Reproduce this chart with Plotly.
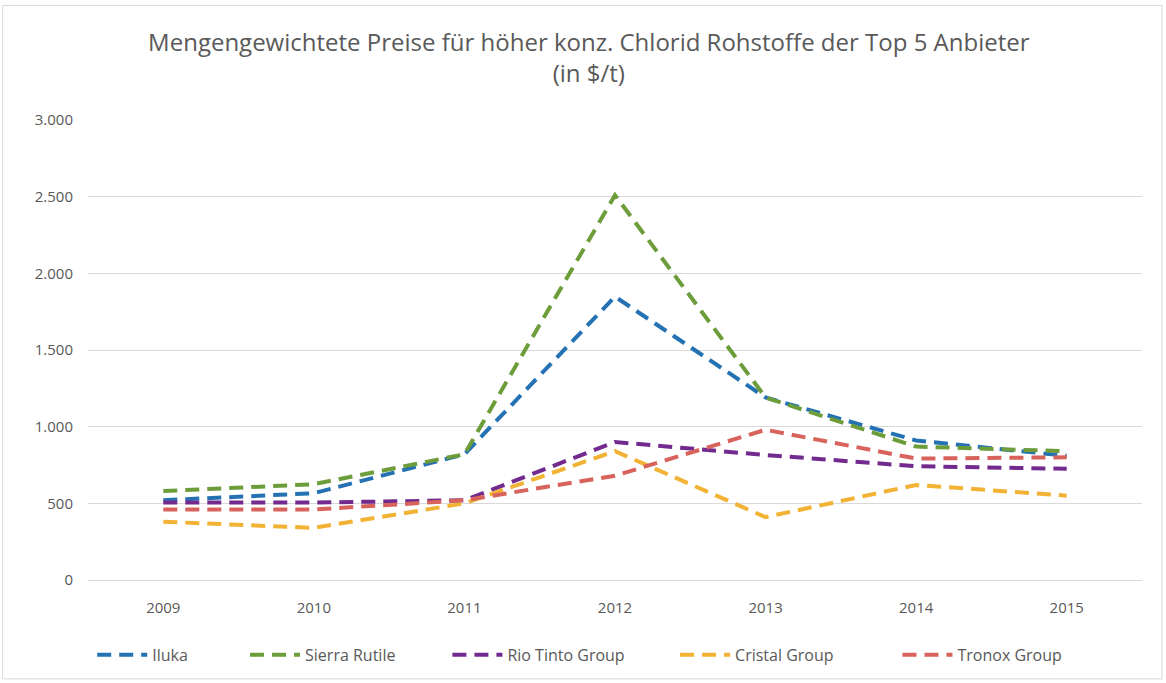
import plotly.graph_objects as go

years = ["2009", "2010", "2011", "2012", "2013", "2014", "2015"]
iluka = [520, 566, 820, 1848, 1190, 910, 810]
sierra_rutile = [580, 625, 820, 2510, 1190, 870, 840]
rio_tinto = [505, 505, 520, 900, 815, 742, 725]
cristal = [380, 340, 500, 840, 410, 620, 550]
tronox = [460, 460, 520, 680, 980, 792, 800]

series = [
    ("Iluka", iluka, "#2472b3"),
    ("Sierra Rutile", sierra_rutile, "#6c9d3a"),
    ("Rio Tinto Group", rio_tinto, "#722a8e"),
    ("Cristal Group", cristal, "#f2b233"),
    ("Tronox Group", tronox, "#d8625c"),
]
legend_x = [0.004, 0.149, 0.341, 0.557, 0.768]

fig = go.Figure()
legend_layouts = {}
for i, (name, vals, col) in enumerate(series):
    lg = "legend" if i == 0 else f"legend{i+1}"
    fig.add_trace(go.Scatter(
        x=years, y=vals, name=name, mode="lines", legend=lg,
        line=dict(color=col, width=4, dash="14px,8px"),
    ))
    legend_layouts[lg] = dict(
        orientation="h", x=legend_x[i], xanchor="left", y=-0.16, yanchor="middle",
        font=dict(size=16, color="#595959"), itemwidth=50,
        bgcolor="rgba(0,0,0,0)",
    )

fig.update_layout(
    width=1166, height=683,
    paper_bgcolor="white", plot_bgcolor="white",
    margin=dict(l=88, r=24, t=120, b=102),
    separators=",.",
    font=dict(family="Open Sans", color="#595959", size=15),
    title=dict(
        text="Mengengewichtete Preise für höher konz. Chlorid Rohstoffe der Top 5 Anbieter<br>(in $/t)",
        x=0.505, xanchor="center", y=0.925, yanchor="middle",
        font=dict(size=24, color="#595959", family="Open Sans"),
    ),
    xaxis=dict(type="category", range=[-0.5, 6.5], showgrid=False, showline=True,
               linecolor="#d9d9d9", linewidth=1, ticks="", ticklabelstandoff=14,
               tickfont=dict(size=15, color="#595959")),
    yaxis=dict(range=[0, 3000], dtick=500, showgrid=True, gridcolor="#d9d9d9",
               gridwidth=1, zeroline=False, separatethousands=True, tickformat=",d",
               ticks="", tickfont=dict(size=15, color="#595959"), ticklabelstandoff=14),
    showlegend=True,
    **legend_layouts,
)
fig.add_shape(type="rect", xref="paper", yref="paper",
              x0=-0.081, x1=1.019, y0=-0.215, y1=1.249,
              line=dict(color="#d9d9d9", width=1))

fig.write_html("out.html")
